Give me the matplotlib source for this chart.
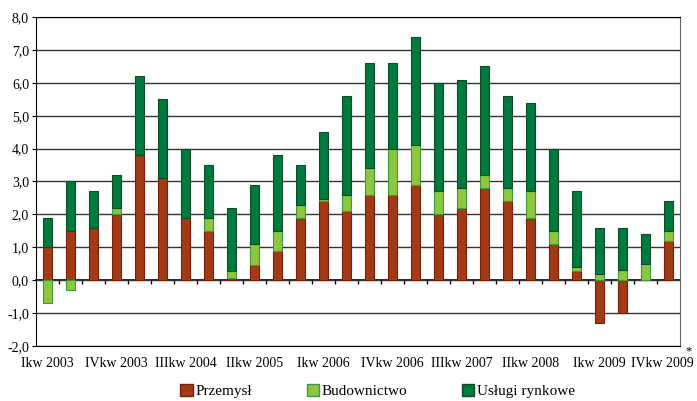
import numpy as np
import matplotlib.pyplot as plt
from matplotlib.patches import Patch

# kwartały Ikw 2003 - IVkw 2009
quarters = [f"{q}kw {y}" for y in range(2003, 2010) for q in ["I", "II", "III", "IV"]]
shown_labels = ["Ikw 2003", "IVkw 2003", "IIIkw 2004", "IIkw 2005", "Ikw 2006",
                "IVkw 2006", "IIIkw 2007", "IIkw 2008", "Ikw 2009", "IVkw 2009"]

przemysl = [1.0, 1.5, 1.6, 2.0, 3.8, 3.1, 1.9, 1.5, 0.07, 0.47, 0.9, 1.9, 2.4, 2.1,
            2.6, 2.6, 2.9, 2.0, 2.2, 2.8, 2.4, 1.9, 1.1, 0.28, -1.3, -1.0, 0.0, 1.2]
budownictwo = [-0.7, -0.3, 0.0, 0.2, 0.0, 0.0, 0.0, 0.4, 0.2, 0.62, 0.6, 0.4, 0.07, 0.5,
               0.8, 1.4, 1.2, 0.7, 0.6, 0.4, 0.4, 0.8, 0.4, 0.13, 0.2, 0.3, 0.5, 0.3]
uslugi = [0.9, 1.5, 1.1, 1.0, 2.4, 2.4, 2.1, 1.6, 1.93, 1.81, 2.3, 1.2, 2.03, 3.0,
          3.2, 2.6, 3.3, 3.3, 3.3, 3.3, 2.8, 2.7, 2.5, 2.29, 1.4, 1.3, 0.9, 0.9]

c_prz = "#A23A16"
c_bud = "#8DC63F"
c_usl = "#007A3C"

plt.rcParams['font.family'] = ['Liberation Serif', 'DejaVu Serif']

fig = plt.figure(figsize=(6.97, 4.01), dpi=100)
ax = fig.add_axes([0.0517, 0.1372, 0.9239, 0.8204])

x = np.arange(len(quarters))
prz = np.array(przemysl)
bud = np.array(budownictwo)
usl = np.array(uslugi)

# dodatnie i ujemne składniki układane osobno
pos_base = np.zeros(len(x))
neg_base = np.zeros(len(x))
w = 0.43
for vals, col, ec in [(prz, c_prz, "#7A1E0A"), (bud, c_bud, "#3C9A3C"), (usl, c_usl, "#0F4A28")]:
    bottom = np.where(vals >= 0, pos_base, neg_base)
    ax.bar(x, vals, w, bottom=bottom, color=col, edgecolor=ec, linewidth=0.8, zorder=3)
    pos_base = pos_base + np.where(vals >= 0, vals, 0)
    neg_base = neg_base + np.where(vals < 0, vals, 0)

ax.set_xlim(-0.5, len(x) - 0.5)
ax.set_ylim(-2.0, 8.0)
ax.set_yticks(np.arange(-2, 8.1, 1.0))
ax.set_yticklabels([f"{v:.1f}".replace(".", ",") for v in np.arange(-2, 8.1, 1.0)], fontsize=10)
ax.yaxis.grid(True, color="#333333", linewidth=1.0, zorder=0)
ax.set_axisbelow(True)
ax.tick_params(axis="y", length=3, pad=2)

# ostatnia etykieta osobno (przesunięta, żeby zmieściła się w obrazku) + gwiazdka
ax.set_xticks(x[::3][:-1])
ax.set_xticklabels(shown_labels[:-1], fontsize=10)
ax.tick_params(axis="x", length=0, pad=8)
ax.annotate(shown_labels[-1], xy=(x[-1], 0), xycoords=("data", "axes fraction"),
            xytext=(18, -8), textcoords="offset points", fontsize=10, ha="right", va="top")
ax.annotate("*", xy=(x[-1], 0), xycoords=("data", "axes fraction"), xytext=(14.5, -8.3),
            textcoords="offset points", fontsize=9, ha="center", va="bottom")

for s in ["left", "bottom", "top"]:
    ax.spines[s].set_color("black")
ax.spines["right"].set_color("#666666")

# oś zera z kreskami między kwartałami
zero_ax = ax.secondary_xaxis(0, transform=ax.transData)
zero_ax.set_xticks(np.arange(0.5, len(x) - 0.5, 1.0))
zero_ax.set_xticklabels([])
zero_ax.tick_params(length=3, width=1, color="black")
zero_ax.spines["bottom"].set_color("black")
zero_ax.spines["bottom"].set_linewidth(1.2)

handles = [Patch(facecolor=c_prz, edgecolor="#7A1E0A", label="Przemysł"),
           Patch(facecolor=c_bud, edgecolor="#3C9A3C", label="Budownictwo"),
           Patch(facecolor=c_usl, edgecolor="#0F4A28", label="Usługi rynkowe")]
fig.legend(handles=handles, loc="lower center", bbox_to_anchor=(0.542, -0.028), ncol=3,
           frameon=False, fontsize=11, handlelength=0.8, handleheight=0.8,
           handletextpad=0.2, columnspacing=3.55)

fig.savefig("out.png", dpi=100)
